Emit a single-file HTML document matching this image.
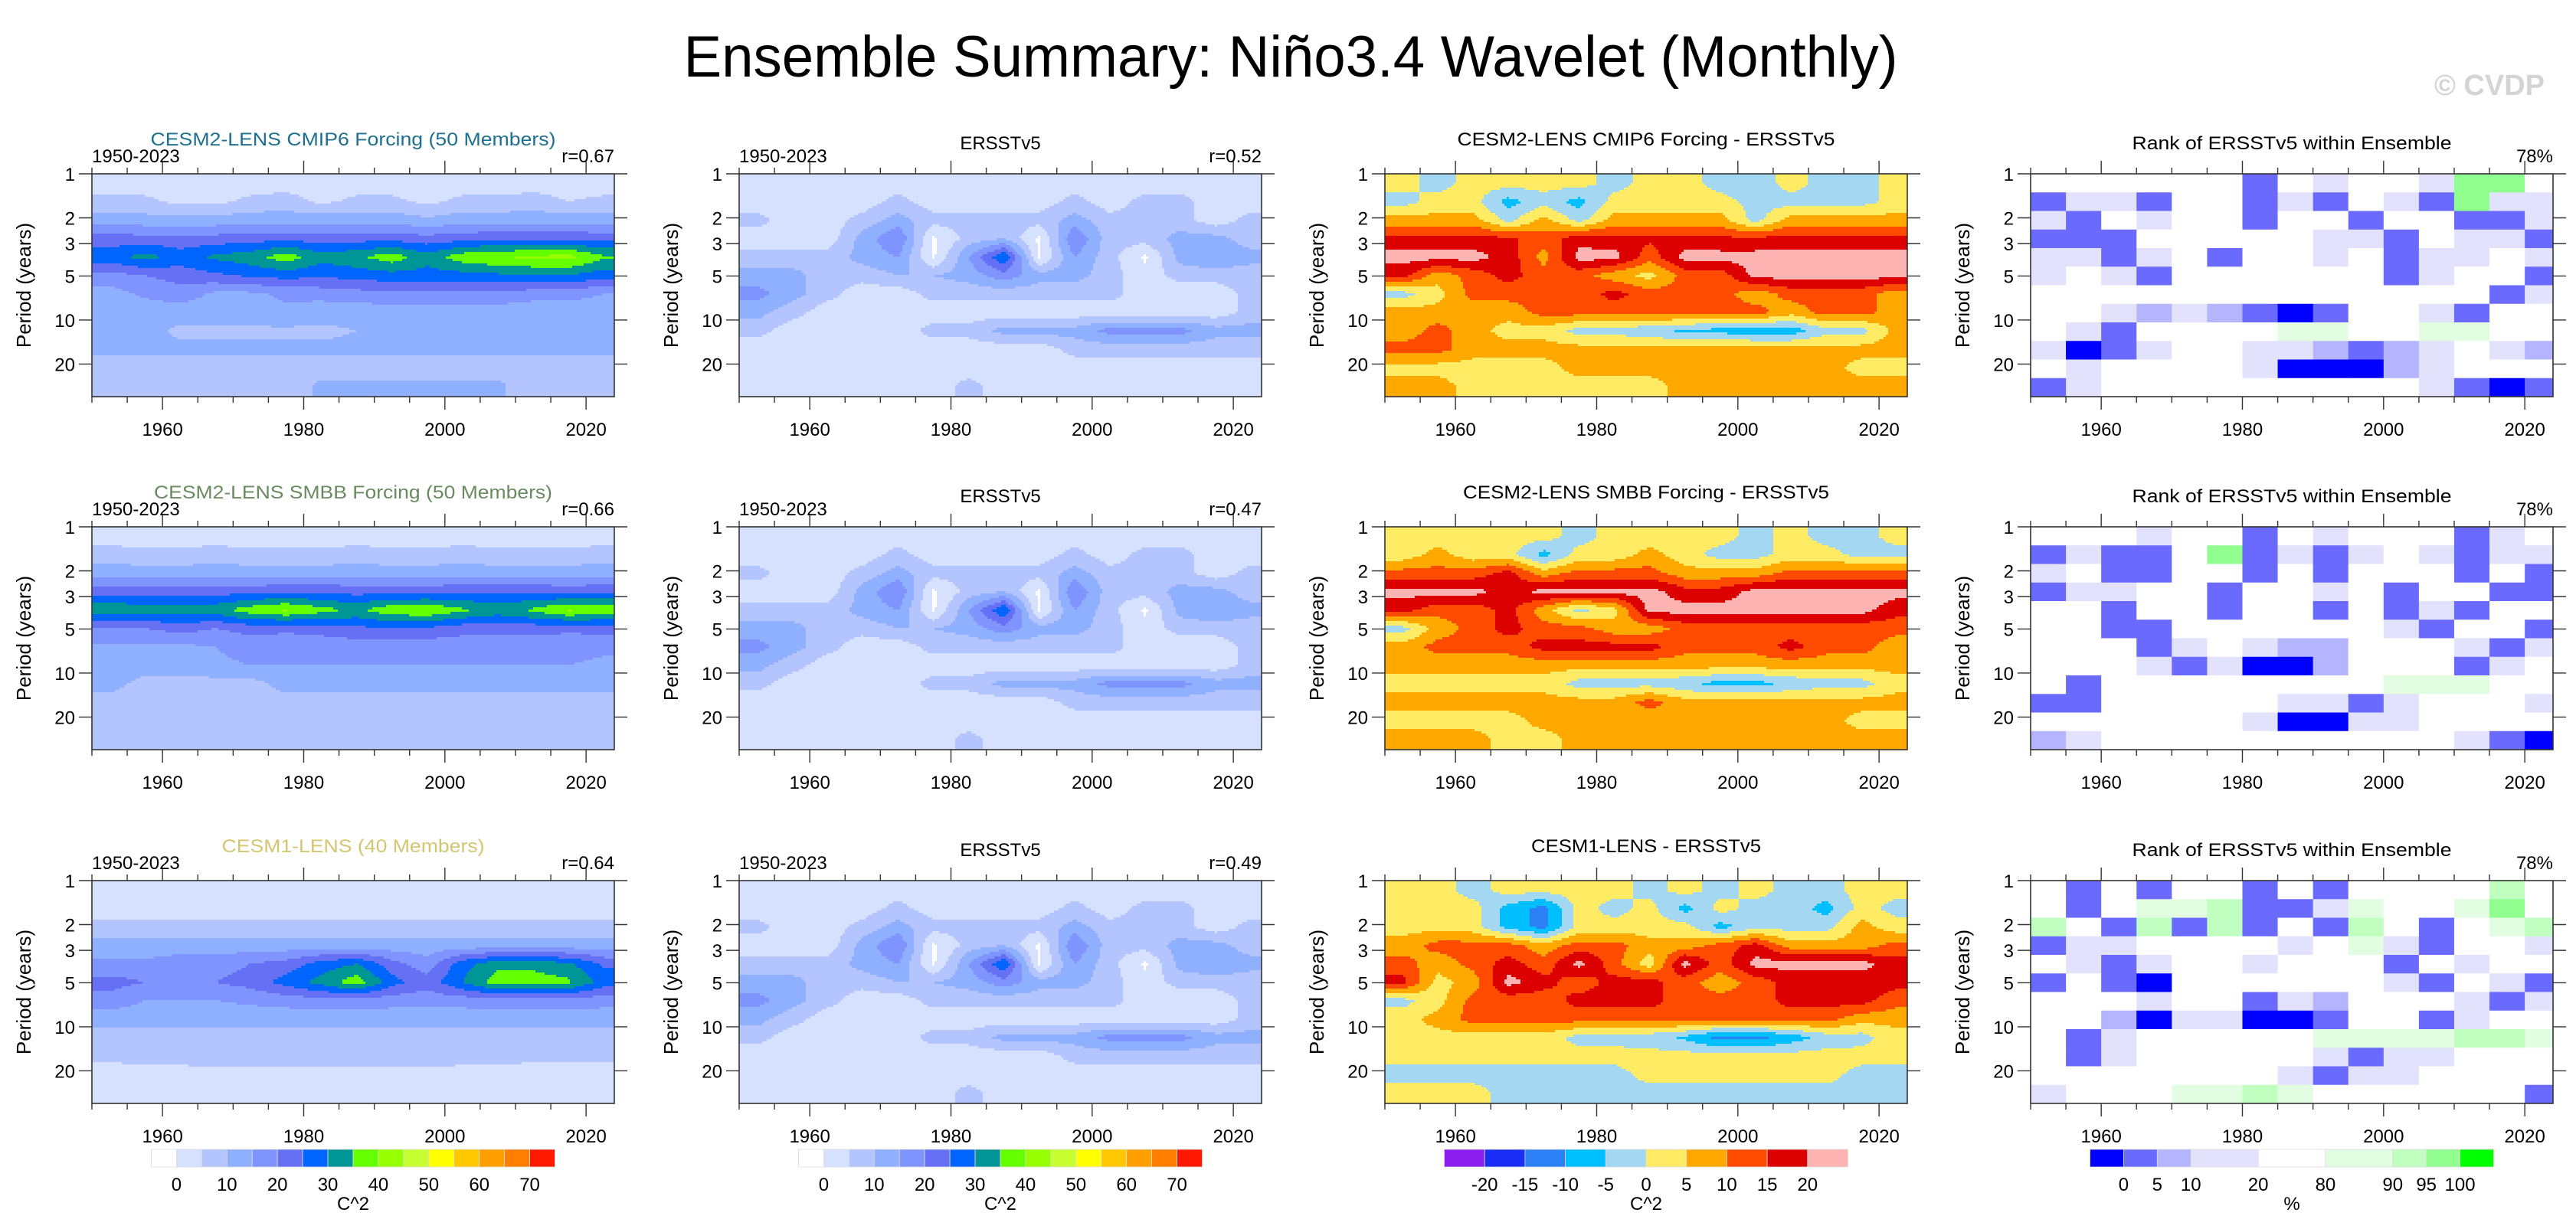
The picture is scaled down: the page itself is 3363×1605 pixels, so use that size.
<!DOCTYPE html>
<html><head><meta charset="utf-8">
<style>
html,body{margin:0;padding:0;background:#fff;}
svg{display:block;font-family:"Liberation Sans",Arial,sans-serif;}
</style></head>
<body>
<svg id="fig" width="3363" height="1605" viewBox="0 0 3363 1605" xmlns="http://www.w3.org/2000/svg">
<rect x="0" y="0" width="3363" height="1605" fill="#fff"/>
<text x="1685" y="100" font-size="76" text-anchor="middle" textLength="1585" lengthAdjust="spacingAndGlyphs">Ensemble Summary: Niño3.4 Wavelet (Monthly)</text>
<text x="3322" y="124" font-size="38" font-weight="bold" fill="#d4d4d4" text-anchor="end">© CVDP</text>
<g id="panels"></g>
</svg>
<script>
// ---- grid definition (5-year columns, 12 log-period rows) ----
const yearNodes = [1952.5,1957.5,1962.5,1967.5,1972.5,1977.5,1982.5,1987.5,1992.5,1997.5,2002.5,2007.5,2012.5,2017.5,2022.5];
const periodNodes = [1.16,1.55,2.07,2.77,3.7,4.95,6.6,8.85,11.8,15.8,21.1,28.2];
const xTickYears = [1960,1980,2000,2020];
const yTickPeriods = [1,2,3,5,10,20];
const powerColors = ["#ffffff","#d6e0ff","#b4c4ff","#8fb0ff","#8094ff","#6670f5","#0064ff","#009696","#64ff00","#96ff00","#c8ff32","#ffff00","#ffc800","#ffa000","#ff7d00","#ff1900"];
const powerLabels = ["0","10","20","30","40","50","60","70"];
const diffColors = ["#8a1fef","#1a2ef5","#2b80f5","#00bfff","#a4d8f2","#ffec64","#ffa800","#ff4b00","#dc0000","#ffb4b4"];
const diffLabels = ["-20","-15","-10","-5","0","5","10","15","20"];
const rankColors = ["#0000ff","#6a6aff","#b4b4ff","#e2e2fc","#ffffff","#e2fde2","#c0ffc0","#90ff90","#00ff00"];
const rankLabels = ["0","5","10","20","80","90","95","100"];

const powCmip6 = [
[3,3,3,3,3,3,3,3,3,3,3,3,3,3,3],
[6,6,4,4,6,7,4,6,6,4,6,6,7,5,6],
[13,12,12,12,13,13,13,13,13,11,13,13,13,13,13],
[22,22,21,22,23,23,23,23,23,22,23,24,24,24,23],
[28,32,28,31,33,38,32,34,38,32,38,40,41,42,36],
[18,20,22,24,26,27,26,27,28,28,28,29,30,30,27],
[13,16,18,14,14,16,17,18,19,19,19,19,17,17,15],
[12,12,12,12,13,14,12,12,12,12,12,12,12,12,12],
[12,12,9,9,9,9,9,10,12,12,12,12,12,12,12],
[11,11,11,11,11,11,11,11,11,11,11,11,11,11,11],
[8,8,8,8,8,8,8,8,8,8,8,8,8,8,8],
[7,7,7,7,7,7,11,11,11,11,11,11,7,7,7]];
const powSmbb = [
[3,3,3,3,3,3,3,3,3,3,3,3,3,3,3],
[7,6,6,7,6,6,6,7,6,6,7,6,6,6,7],
[13,13,13,13,13,13,13,13,13,13,13,13,13,13,13],
[23,23,23,23,23,24,24,23,23,23,24,24,24,23,24],
[34,33,33,33,38,41,37,34,39,40,36,33,36,41,39],
[20,20,22,20,22,21,22,24,24,24,22,22,22,21,22],
[14,14,14,15,17,17,17,17,17,17,17,17,17,17,16],
[13,13,13,14,15,15,15,15,15,15,15,15,15,15,14],
[12,8,8,8,8,12,12,12,12,12,12,12,12,12,12],
[8,8,8,8,8,8,8,8,8,8,8,8,8,8,8],
[8,8,8,8,8,8,8,8,8,8,8,8,8,8,8],
[8,8,8,8,8,8,8,8,8,8,8,8,8,8,8]];
const powCesm1 = [
[3,3,3,3,3,3,3,3,3,3,3,3,3,3,3],
[3,3,3,3,3,3,3,3,3,3,3,3,3,3,3],
[6,6,6,6,6,6,6,6,6,6,6,6,6,6,6],
[12,12,12,12,12,12,12,12,12,12,12,12,12,12,12],
[16,16,18,18,20,22,27,30,22,17,28,33,33,31,24],
[22,20,20,20,22,27,32,38,27,22,30,38,38,36,28],
[18,15,15,15,16,17,18,18,17,17,17,18,18,18,17],
[12,12,12,12,12,12,12,12,12,12,12,12,12,12,12],
[8,8,8,8,8,8,8,8,8,8,8,8,8,8,8],
[6,7,7,8,8,8,8,8,8,8,7,7,6,6,6],
[3,3,3,3,3,3,3,3,3,3,3,3,3,3,3],
[3,3,3,3,3,3,3,3,3,3,3,3,3,3,3]];
const powErsst = [
[2,2,2,2,2,2,2,2,2,2,2,2,2,2,2],
[2,2,2,2,7,2,2,2,2,7,2,7,7,2,2],
[7,2,2,7,12,7,7,7,7,12,7,7,7,2,7],
[2,2,2,12,20,-1,7,10,-1,20,7,7,12,12,7],
[7,7,7,12,15,-1,15,30,-1,15,7,-1,12,15,12],
[12,12,7,7,10,10,12,18,12,12,7,2,7,7,7],
[17,12,7,2,2,7,7,7,7,7,7,2,2,2,7],
[12,7,2,2,2,2,2,2,2,2,2,2,2,2,7],
[7,2,2,2,2,7,7,12,12,12,17,17,17,12,12],
[2,2,2,2,2,2,2,2,2,7,7,7,7,7,7],
[2,2,2,2,2,2,2,2,2,2,2,2,2,2,2],
[2,2,2,2,2,2,7,2,2,2,2,2,2,2,2]];
const diffCmip6 = [
[2,-2,2,2,2,2,-2,2,2,-2,-3,2,-2,-2,2],
[-2,2,2,-7,-2,-7,2,2,2,2,-2,-2,-2,-2,2],
[7,7,7,-2,7,-2,7,7,7,7,-2,7,7,7,7],
[17,17,17,16,12,18,17,16,17,16,16,17,17,17,17],
[22,22,22,18,8,22,22,12,22,22,22,22,22,22,22],
[17,7,12,17,12,12,7,3,12,12,22,22,22,22,22],
[-2,3,12,12,12,12,17,12,12,12,7,12,12,12,7],
[7,7,7,7,12,12,12,12,12,12,12,7,12,12,7],
[7,12,7,3,3,-2,-2,-4,-6,-7,-8,-8,-2,-2,7],
[12,12,7,7,7,7,7,7,7,7,7,7,7,7,7],
[3,3,3,3,3,7,7,7,7,7,7,7,7,3,3],
[7,7,3,3,3,3,3,3,7,7,7,7,7,7,7]];
const diffSmbb = [
[2,2,2,2,2,-2,2,2,2,2,-2,2,-2,-2,2],
[2,7,2,2,-7,2,2,7,2,-2,-2,2,2,-2,-2],
[12,12,12,17,7,12,12,12,7,7,7,12,12,12,12],
[22,22,22,17,22,22,22,22,17,17,22,22,22,22,22],
[17,12,12,17,7,-2,3,22,22,22,22,22,22,22,17],
[-2,7,12,17,12,12,7,7,12,12,12,12,12,12,12],
[7,12,12,12,17,17,17,17,12,12,12,17,12,12,7],
[7,7,7,7,7,7,7,7,7,7,7,7,7,7,7],
[3,3,3,3,3,-2,-2,-2,-4,-7,-7,-4,-2,-2,3],
[7,7,7,7,7,7,7,12,7,7,7,7,7,7,7],
[3,3,3,3,7,7,7,7,7,7,7,7,7,3,3],
[7,7,7,3,3,7,7,7,7,7,7,7,7,7,7]];
const diffCesm1 = [
[2,2,-2,2,2,2,2,-2,2,-2,2,-2,-2,2,2],
[2,2,2,-7,-12,2,-2,2,-7,2,-2,-2,-7,2,-2],
[3,3,2,-7,-12,2,2,2,2,-7,-2,-2,-2,7,2],
[7,12,12,12,7,12,12,7,7,12,17,7,7,7,12],
[12,7,12,17,12,22,12,2,22,12,22,22,22,22,17],
[17,3,7,22,17,12,17,17,12,7,12,17,17,17,17],
[-2,3,12,12,12,17,17,17,12,12,12,17,17,17,12],
[3,7,12,12,12,12,12,12,12,12,12,12,12,7,7],
[3,3,3,3,3,-2,-2,-3,-6,-12,-12,-8,-3,-2,3],
[2,2,2,2,2,2,2,2,2,2,2,2,2,2,2],
[-2,-2,-2,-2,-2,-2,-2,2,2,2,2,2,2,-2,-2],
[2,2,2,-2,-2,-2,-2,-2,-2,-2,-2,-2,-2,-2,-2]];
const rankCmip6 = [
[50,50,50,50,50,50,3,50,15,50,50,15,97,97,50],
[3,15,15,3,50,50,3,15,3,50,15,3,97,15,15],
[15,3,50,15,50,50,3,50,50,3,50,50,3,3,15],
[3,3,3,50,50,50,50,50,15,15,3,50,15,15,3],
[15,15,3,15,50,3,50,50,15,50,3,15,15,50,15],
[15,50,15,3,50,50,50,50,50,50,3,15,50,50,3],
[50,50,50,50,50,50,50,50,50,50,50,50,50,3,15],
[50,50,15,8,15,8,3,0,3,50,50,15,3,50,50],
[50,15,3,50,50,50,50,85,85,50,50,85,85,50,50],
[15,0,3,15,50,50,15,15,8,3,8,15,50,15,8],
[50,15,50,50,50,50,15,0,0,0,8,15,50,50,50],
[3,15,50,50,50,50,50,50,50,50,50,15,3,0,3]];
const rankSmbb = [
[50,50,50,15,50,50,3,50,15,50,50,50,3,15,50],
[3,15,3,3,50,97,3,15,3,15,50,15,3,15,15],
[15,50,3,3,50,50,3,50,3,50,50,50,3,50,3],
[3,15,15,50,50,3,50,50,15,50,3,50,50,3,3],
[50,50,3,50,50,3,50,50,3,50,3,15,3,50,50],
[50,50,3,3,50,50,50,50,50,50,15,3,50,50,3],
[50,50,50,3,15,50,15,8,8,50,50,50,15,3,15],
[50,50,50,15,3,15,0,0,8,50,50,50,3,15,50],
[50,3,50,50,50,50,50,50,50,50,85,85,85,50,50],
[3,3,50,50,50,50,50,15,15,3,15,50,50,50,15],
[50,50,50,50,50,50,15,0,0,15,15,50,50,50,50],
[8,15,50,50,50,50,50,50,50,50,50,50,15,3,0]];
const rankCesm1 = [
[50,3,50,3,50,50,3,50,3,50,50,50,50,92,50],
[50,3,50,85,85,92,3,3,15,85,50,50,85,97,50],
[92,50,3,92,3,92,3,50,3,92,50,3,50,85,92],
[3,15,15,50,50,50,50,15,50,85,15,3,50,50,15],
[50,15,3,15,50,50,15,50,50,50,3,50,15,50,50],
[3,50,3,0,50,50,50,50,50,50,15,3,50,15,3],
[50,50,50,15,50,50,3,15,8,50,50,50,15,3,15],
[50,50,8,0,15,15,0,0,3,50,50,3,15,50,50],
[50,3,15,50,50,50,50,50,85,85,85,85,92,92,85],
[50,3,15,50,50,50,50,50,15,3,15,15,50,50,50],
[50,50,50,50,50,50,50,15,3,15,15,50,50,50,50],
[15,50,50,50,85,85,92,85,50,50,50,50,50,50,3]];

const NS = "http://www.w3.org/2000/svg";
const colLeft = [120,965,1808,2651], rowTop = [227,688,1150];
const PW = 682, PH = 291, X0 = 1950, X1 = 2024, LMAX = Math.log2(33.4);
function mk(tag, attrs, parent){const e=document.createElementNS(NS,tag);for(const k in attrs)e.setAttribute(k,attrs[k]);parent.appendChild(e);return e;}
function xScale(left, yr){return left + (yr-X0)/(X1-X0)*PW;}
function yScale(top, p){return top + Math.log2(p)/LMAX*PH;}
function powerIdx(v){return v<0?0:Math.min(15,Math.floor(v/5)+1);}
function diffIdx(v){return v<-20?0:Math.min(9,Math.floor((v+20)/5)+1);}
function rankIdx(v){const t=[0,5,10,20,80,90,95,100];if(v<=0)return 0;for(let i=1;i<t.length;i++){if(v<t[i])return i;}return 8;}

function sampleField(grid, yr, lp){
  const xs=yearNodes, ls=periodNodes.map(Math.log2);
  let fx=(yr-xs[0])/(xs[1]-xs[0]); fx=Math.max(0,Math.min(xs.length-1,fx));
  let i=Math.min(xs.length-2,Math.floor(fx)); let tx=fx-i;
  let j=0; if(lp<=ls[0]){j=0;} else if(lp>=ls[ls.length-1]){j=ls.length-2;} else {while(j<ls.length-2&&lp>ls[j+1])j++;}
  let ty=(lp-ls[j])/(ls[j+1]-ls[j]); ty=Math.max(0,Math.min(1,ty));
  const a=grid[j][i],b=grid[j][i+1],c=grid[j+1][i],d=grid[j+1][i+1];
  return (a*(1-tx)+b*tx)*(1-ty)+(c*(1-tx)+d*tx)*ty;
}
function emitRun(g,x,y,w,h,color){
  const r=mk("rect",{x:x,y:y,width:w+0.6,height:h+0.6,fill:color},g);
  
  
}
function drawContour(g, left, top, grid, idxFn, colors){
  const dx=3, dy=3;
  for(let py=0; py<PH; py+=dy){
    const lp=(py+dy/2)/PH*LMAX;
    const h=Math.min(dy,PH-py);
    let runStart=0, runIdx=-1;
    for(let px=0; px<PW; px+=dx){
      const yr=X0+Math.min(px+dx/2,PW)/PW*(X1-X0);
      const idx=idxFn(sampleField(grid,yr,lp));
      if(idx!==runIdx){
        if(runIdx>=0) emitRun(g,left+runStart,top+py,px-runStart,h,colors[runIdx]);
        runStart=px; runIdx=idx;
      }
    }
    if(runIdx>=0) emitRun(g,left+runStart,top+py,PW-runStart-0.6,h,colors[runIdx]);
  }
}
function drawRank(g, left, top, grid){
  for(let j=0;j<periodNodes.length;j++){
    const y0=top+j/periodNodes.length*PH, y1=top+(j+1)/periodNodes.length*PH;
    for(let i=0;i<yearNodes.length;i++){
      const a=Math.max(X0,yearNodes[i]-2.5), b=Math.min(X1,yearNodes[i]+2.5);
      const x0=xScale(left,a), x1=xScale(left,b);
      const r=mk("rect",{x:x0,y:y0,width:x1-x0+0.5,height:y1-y0+0.5,fill:rankColors[rankIdx(grid[j][i])]},g);
      
      
    }
  }
}
function txt(g, x, y, s, size, anchor, fill, name, tl){
  const t=mk("text",{x:x,y:y,"font-size":size,"text-anchor":anchor||"start",fill:fill||"#000"},g);
  if(tl){t.setAttribute("textLength",tl);t.setAttribute("lengthAdjust","spacingAndGlyphs");}
  t.textContent=s;
  
  
  return t;
}
function drawAxes(g, left, top){
  const ax=mk("g",{},g);
  
  
  mk("rect",{x:left,y:top,width:PW,height:PH,fill:"none",stroke:"#333","stroke-width":1.6},ax);
  for(let yr=1950; yr<=X1; yr+=5){
    const x=xScale(left,yr), major=xTickYears.indexOf(yr)>=0, L=major?17:8;
    mk("line",{x1:x,y1:top,x2:x,y2:top-L,stroke:"#333","stroke-width":1.4},ax);
    mk("line",{x1:x,y1:top+PH,x2:x,y2:top+PH+L,stroke:"#333","stroke-width":1.4},ax);
  }
  xTickYears.forEach(yr=>txt(ax,xScale(left,yr),top+PH+51,String(yr),24,"middle","#000","x-tick-label"));
  yTickPeriods.forEach(p=>{
    const y=yScale(top,p);
    mk("line",{x1:left,y1:y,x2:left-17,y2:y,stroke:"#333","stroke-width":1.4},ax);
    mk("line",{x1:left+PW,y1:y,x2:left+PW+17,y2:y,stroke:"#333","stroke-width":1.4},ax);
    txt(ax,left-22,y+9,String(p),24,"end","#000","y-tick-label");
  });
  const t=mk("text",{x:0,y:0,"font-size":26,"text-anchor":"middle",transform:`translate(${left-80},${top+PH/2}) rotate(-90)`},ax);
  t.textContent="Period (years)";
  
  
}
function drawColorbar(g, cx, colors, units, labels, unitLabel, labelUnits){
  const W=527, x0=cx-W/2, y0=1501, h=23;
  const total=units.reduce((a,b)=>a+b,0);
  let acc=0; const bounds=[];
  colors.forEach((c,i)=>{
    const x=x0+acc/total*W, w=units[i]/total*W;
    const r=mk("rect",{x:x,y:y0,width:w,height:h,fill:c,stroke:"#ddd","stroke-width":0.8},g);
    
    
    acc+=units[i]; bounds.push(x0+acc/total*W);
  });
  labels.forEach((l,i)=>{
    const bx = labelUnits ? x0+labelUnits[i]/total*W : bounds[i];
    txt(g,bx,y0+h+31,l,24,"middle","#000","colorbar-label");
  });
  txt(g,cx,y0+h+56,unitLabel,24,"middle","#000","colorbar-units");
}

const panels = document.getElementById("panels");
const rowsDef = [
  {name:"CESM2-LENS CMIP6 Forcing (50 Members)", col:"#1e7090", tl:529, r1:"r=0.67", r2:"r=0.52", diffTitle:"CESM2-LENS CMIP6 Forcing - ERSSTv5", dtl:493, pow:powCmip6, diff:diffCmip6, rank:rankCmip6},
  {name:"CESM2-LENS SMBB Forcing (50 Members)", col:"#6a8a60", tl:520, r1:"r=0.66", r2:"r=0.47", diffTitle:"CESM2-LENS SMBB Forcing - ERSSTv5", dtl:478, pow:powSmbb, diff:diffSmbb, rank:rankSmbb},
  {name:"CESM1-LENS (40 Members)", col:"#d4c670", tl:343, r1:"r=0.64", r2:"r=0.49", diffTitle:"CESM1-LENS - ERSSTv5", dtl:300, pow:powCesm1, diff:diffCesm1, rank:rankCesm1}
];
rowsDef.forEach((R,ri)=>{
  const top=rowTop[ri];
  let g=mk("g",{},panels);  
  drawContour(g,colLeft[0],top,R.pow,powerIdx,powerColors); drawAxes(g,colLeft[0],top);
  txt(g,colLeft[0]+PW/2,top-37,R.name,24,"middle",R.col,"panel-title",R.tl);
  txt(g,colLeft[0],top-15,"1950-2023",24,"start","#000","period-label");
  txt(g,colLeft[0]+PW,top-15,R.r1,24,"end","#000","pattern-correlation");
  g=mk("g",{},panels);  
  drawContour(g,colLeft[1],top,powErsst,powerIdx,powerColors); drawAxes(g,colLeft[1],top);
  txt(g,colLeft[1]+PW/2,top-32,"ERSSTv5",24,"middle","#000","panel-title");
  txt(g,colLeft[1],top-15,"1950-2023",24,"start","#000","period-label");
  txt(g,colLeft[1]+PW,top-15,R.r2,24,"end","#000","pattern-correlation");
  g=mk("g",{},panels);  
  drawContour(g,colLeft[2],top,R.diff,diffIdx,diffColors); drawAxes(g,colLeft[2],top);
  txt(g,colLeft[2]+PW/2,top-37,R.diffTitle,24,"middle","#000","panel-title",R.dtl);
  g=mk("g",{},panels);  
  drawRank(g,colLeft[3],top,R.rank); drawAxes(g,colLeft[3],top);
  txt(g,colLeft[3]+PW/2,top-32,"Rank of ERSSTv5 within Ensemble",24,"middle","#000","panel-title",417);
  txt(g,colLeft[3]+PW,top-15,"78%",24,"end","#000","rank-percent");
});
const cb=mk("g",{},panels);  
const powerLabelUnits=[1,3,5,7,9,11,13,15];
drawColorbar(cb,colLeft[0]+PW/2,powerColors,powerColors.map(()=>1),powerLabels,"C^2",powerLabelUnits);
drawColorbar(cb,colLeft[1]+PW/2,powerColors,powerColors.map(()=>1),powerLabels,"C^2",powerLabelUnits);
drawColorbar(cb,colLeft[2]+PW/2,diffColors,diffColors.map(()=>1),diffLabels,"C^2");
drawColorbar(cb,colLeft[3]+PW/2,rankColors,[1,1,1,2,2,2,1,1,1],rankLabels,"%");
</script>
</body></html>
